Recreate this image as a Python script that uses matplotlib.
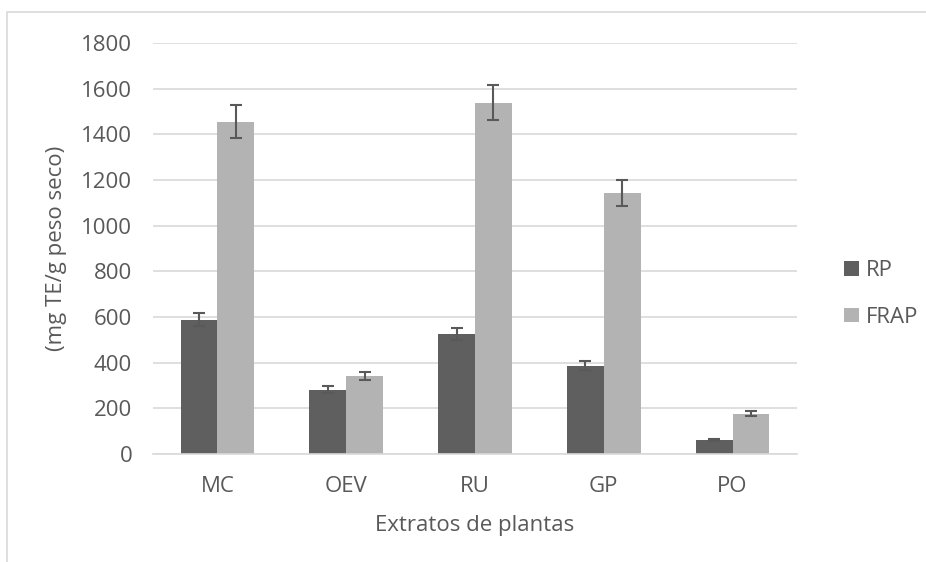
import matplotlib
matplotlib.use("Agg")
import matplotlib.pyplot as plt
import numpy as np
from matplotlib.patches import Rectangle

# values
categories = ["MC", "OEV", "RU", "GP", "PO"]
rp = [589, 282, 526, 387, 60]
rp_err = [30, 16, 28, 20, 5]
frap = [1456, 342, 1539, 1143, 177]
frap_err = [74, 17, 78, 58, 12]
yticks = [0, 200, 400, 600, 800, 1000, 1200, 1400, 1600, 1800]

text_col = "#595959"
grid_col = "#d9d9d9"
fs = 16
plt.rcParams["font.family"] = ["Open Sans", "DejaVu Sans"]

fig = plt.figure(figsize=(9.26, 5.62), dpi=100)
ax = fig.add_axes([153 / 926, 1 - 454 / 562, (797 - 153) / 926, (454 - 43) / 562])

# outer chart frame (runs off the right and bottom of the picture)
fig.patches.append(Rectangle((7 / 926, -0.05), 1.1, 1 - 12 / 562 + 0.05,
                             transform=fig.transFigure, fill=False,
                             edgecolor=grid_col, lw=1.2, zorder=0))

x = np.arange(len(categories))
w = 0.285
errkw = dict(ecolor="#595959", elinewidth=1.5, capsize=4.3, capthick=1.5)
ax.bar(x - w / 2, rp, w, yerr=rp_err, color="#5f5f5f", label="RP",
       error_kw=errkw, zorder=3)
ax.bar(x + w / 2, frap, w, yerr=frap_err, color="#b3b3b3", label="FRAP",
       error_kw=errkw, zorder=3)

ax.set_xlim(-0.5, len(categories) - 0.5)
ax.set_ylim(0, 1800)
ax.set_yticks(yticks)
ax.set_xticks(x)
ax.set_xticklabels(categories)
ax.yaxis.grid(True, color=grid_col, lw=1.2)
ax.set_axisbelow(True)
for s in ["top", "right", "left"]:
    ax.spines[s].set_visible(False)
ax.spines["bottom"].set_color(grid_col)
ax.spines["bottom"].set_linewidth(1.2)
ax.spines["bottom"].set_zorder(4)
ax.tick_params(axis="both", length=0, labelsize=fs, colors=text_col)
ax.tick_params(axis="y", pad=15)
ax.tick_params(axis="x", pad=16)

ax.set_xlabel("Extratos de plantas", fontsize=fs, color=text_col, labelpad=13)
ax.set_ylabel("(mg TE/g peso seco)", fontsize=fs, color=text_col, labelpad=10)

leg = ax.legend(loc="center left", bbox_to_anchor=(833 / 926, 1 - 294 / 562),
                bbox_transform=fig.transFigure, frameon=False, fontsize=fs,
                handlelength=0.65, handleheight=0.65, handletextpad=0.35,
                labelspacing=1.15, borderpad=0)
for t in leg.get_texts():
    t.set_color(text_col)

fig.savefig("out.png", dpi=100)
